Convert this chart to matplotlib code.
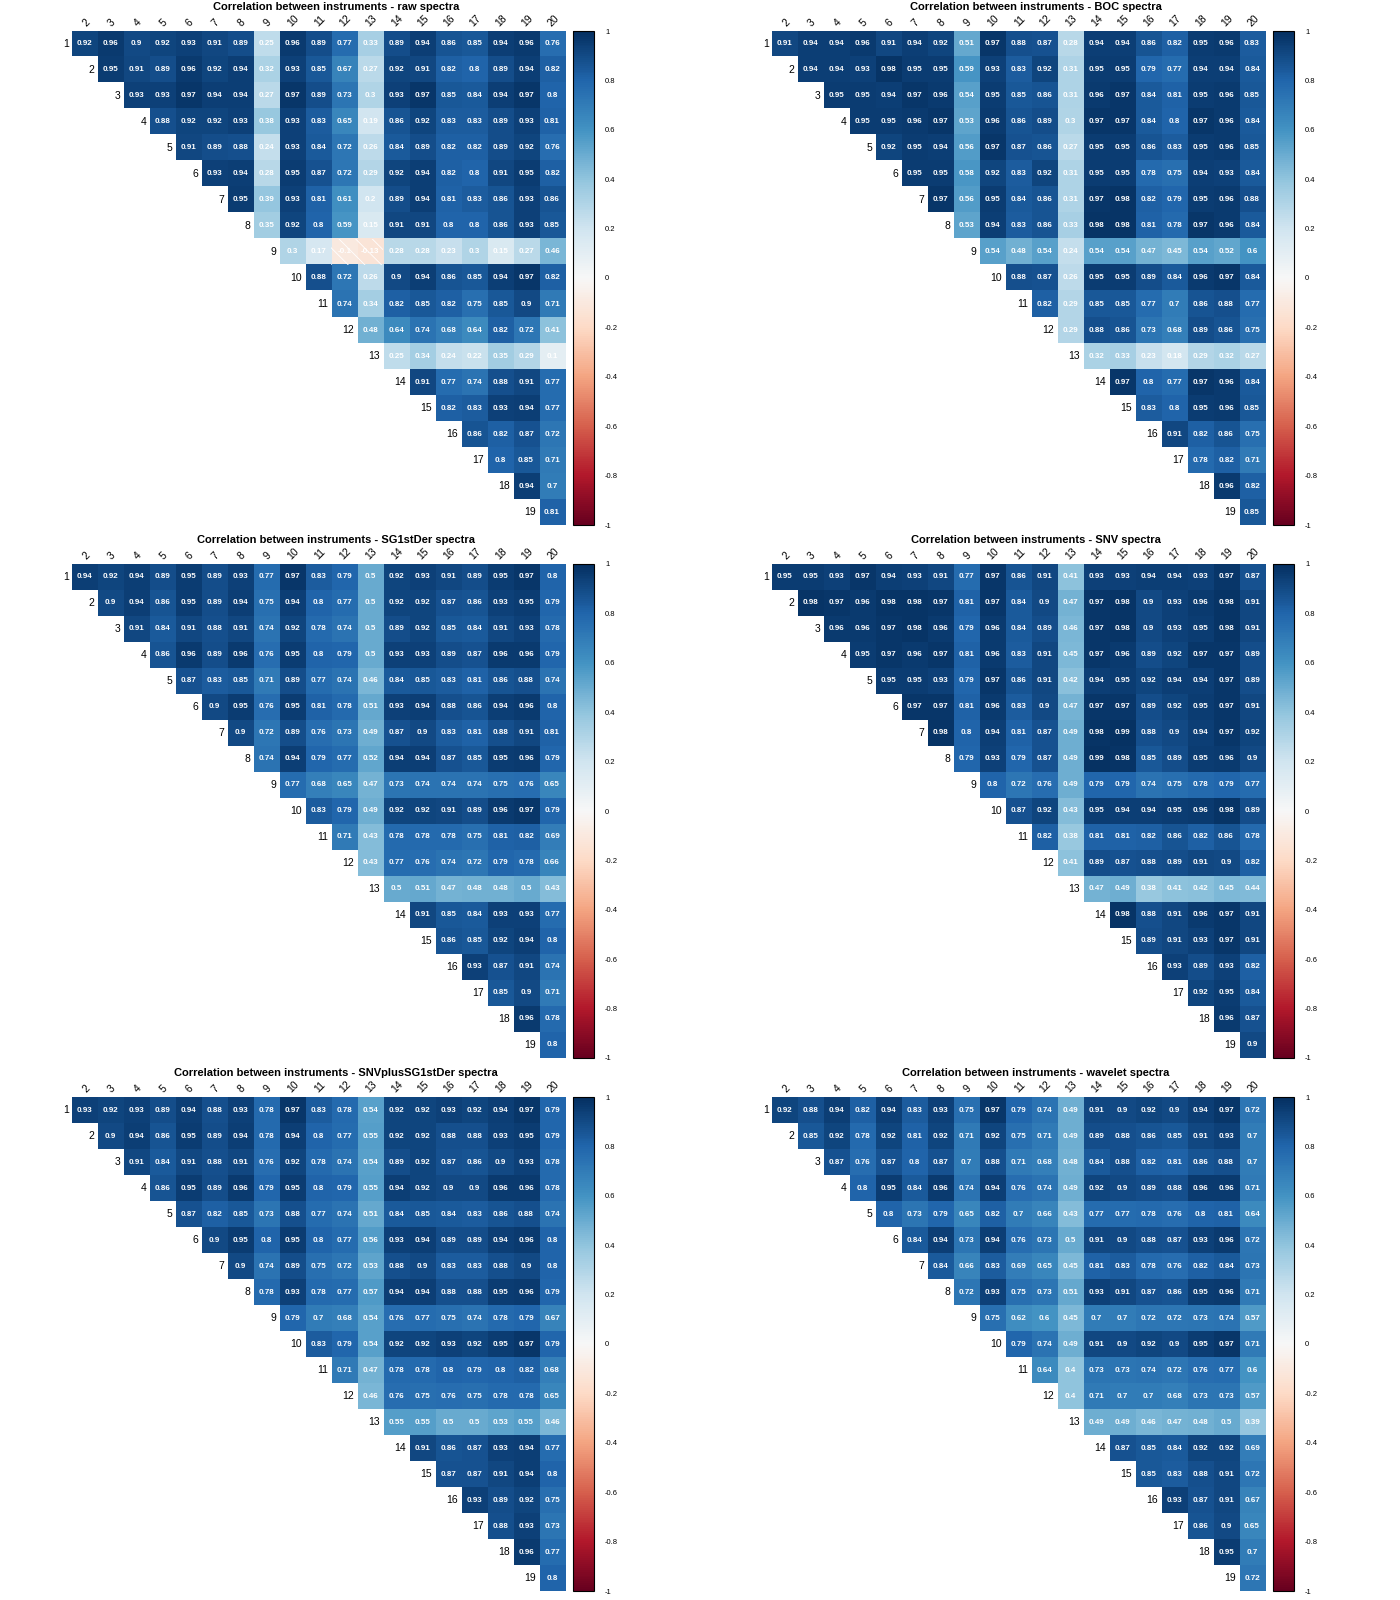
import numpy as np
import matplotlib
matplotlib.use("Agg")
import matplotlib.pyplot as plt
from matplotlib.patches import Rectangle

plt.rcParams["font.family"] = ["Liberation Sans", "DejaVu Sans"]
plt.rcParams["hatch.linewidth"] = 0.6

# instrument labels: rows 1..19, columns 2..20 (upper triangle)
row_labels = [str(i) for i in range(1, 20)]
col_labels = [str(i) for i in range(2, 21)]

titles = [
    "Correlation between instruments - raw spectra",
    "Correlation between instruments - BOC spectra",
    "Correlation between instruments - SG1stDer spectra",
    "Correlation between instruments - SNV spectra",
    "Correlation between instruments - SNVplusSG1stDer spectra",
    "Correlation between instruments - wavelet spectra",
]

# each row i holds correlations with instruments i+1 .. 20
raw = [
    [0.92, 0.96, 0.9, 0.92, 0.93, 0.91, 0.89, 0.25, 0.96, 0.89, 0.77, 0.33, 0.89, 0.94, 0.86, 0.85, 0.94, 0.96, 0.76],
    [0.95, 0.91, 0.89, 0.96, 0.92, 0.94, 0.32, 0.93, 0.85, 0.67, 0.27, 0.92, 0.91, 0.82, 0.8, 0.89, 0.94, 0.82],
    [0.93, 0.93, 0.97, 0.94, 0.94, 0.27, 0.97, 0.89, 0.73, 0.3, 0.93, 0.97, 0.85, 0.84, 0.94, 0.97, 0.8],
    [0.88, 0.92, 0.92, 0.93, 0.38, 0.93, 0.83, 0.65, 0.19, 0.86, 0.92, 0.83, 0.83, 0.89, 0.93, 0.81],
    [0.91, 0.89, 0.88, 0.24, 0.93, 0.84, 0.72, 0.26, 0.84, 0.89, 0.82, 0.82, 0.89, 0.92, 0.76],
    [0.93, 0.94, 0.28, 0.95, 0.87, 0.72, 0.29, 0.92, 0.94, 0.82, 0.8, 0.91, 0.95, 0.82],
    [0.95, 0.39, 0.93, 0.81, 0.61, 0.2, 0.89, 0.94, 0.81, 0.83, 0.86, 0.93, 0.86],
    [0.35, 0.92, 0.8, 0.59, 0.15, 0.91, 0.91, 0.8, 0.8, 0.86, 0.93, 0.85],
    [0.3, 0.17, -0.1, -0.13, 0.28, 0.28, 0.23, 0.3, 0.15, 0.27, 0.46],
    [0.88, 0.72, 0.26, 0.9, 0.94, 0.86, 0.85, 0.94, 0.97, 0.82],
    [0.74, 0.34, 0.82, 0.85, 0.82, 0.75, 0.85, 0.9, 0.71],
    [0.48, 0.64, 0.74, 0.68, 0.64, 0.82, 0.72, 0.41],
    [0.25, 0.34, 0.24, 0.22, 0.35, 0.29, 0.1],
    [0.91, 0.77, 0.74, 0.88, 0.91, 0.77],
    [0.82, 0.83, 0.93, 0.94, 0.77],
    [0.86, 0.82, 0.87, 0.72],
    [0.8, 0.85, 0.71],
    [0.94, 0.7],
    [0.81],
]

boc = [
    [0.91, 0.94, 0.94, 0.96, 0.91, 0.94, 0.92, 0.51, 0.97, 0.88, 0.87, 0.28, 0.94, 0.94, 0.86, 0.82, 0.95, 0.96, 0.83],
    [0.94, 0.94, 0.93, 0.98, 0.95, 0.95, 0.59, 0.93, 0.83, 0.92, 0.31, 0.95, 0.95, 0.79, 0.77, 0.94, 0.94, 0.84],
    [0.95, 0.95, 0.94, 0.97, 0.96, 0.54, 0.95, 0.85, 0.86, 0.31, 0.96, 0.97, 0.84, 0.81, 0.95, 0.96, 0.85],
    [0.95, 0.95, 0.96, 0.97, 0.53, 0.96, 0.86, 0.89, 0.3, 0.97, 0.97, 0.84, 0.8, 0.97, 0.96, 0.84],
    [0.92, 0.95, 0.94, 0.56, 0.97, 0.87, 0.86, 0.27, 0.95, 0.95, 0.86, 0.83, 0.95, 0.96, 0.85],
    [0.95, 0.95, 0.58, 0.92, 0.83, 0.92, 0.31, 0.95, 0.95, 0.78, 0.75, 0.94, 0.93, 0.84],
    [0.97, 0.56, 0.95, 0.84, 0.86, 0.31, 0.97, 0.98, 0.82, 0.79, 0.95, 0.96, 0.88],
    [0.53, 0.94, 0.83, 0.86, 0.33, 0.98, 0.98, 0.81, 0.78, 0.97, 0.96, 0.84],
    [0.54, 0.48, 0.54, 0.24, 0.54, 0.54, 0.47, 0.45, 0.54, 0.52, 0.6],
    [0.88, 0.87, 0.26, 0.95, 0.95, 0.89, 0.84, 0.96, 0.97, 0.84],
    [0.82, 0.29, 0.85, 0.85, 0.77, 0.7, 0.86, 0.88, 0.77],
    [0.29, 0.88, 0.86, 0.73, 0.68, 0.89, 0.86, 0.75],
    [0.32, 0.33, 0.23, 0.18, 0.29, 0.32, 0.27],
    [0.97, 0.8, 0.77, 0.97, 0.96, 0.84],
    [0.83, 0.8, 0.95, 0.96, 0.85],
    [0.91, 0.82, 0.86, 0.75],
    [0.78, 0.82, 0.71],
    [0.96, 0.82],
    [0.85],
]

sg1 = [
    [0.94, 0.92, 0.94, 0.89, 0.95, 0.89, 0.93, 0.77, 0.97, 0.83, 0.79, 0.5, 0.92, 0.93, 0.91, 0.89, 0.95, 0.97, 0.8],
    [0.9, 0.94, 0.86, 0.95, 0.89, 0.94, 0.75, 0.94, 0.8, 0.77, 0.5, 0.92, 0.92, 0.87, 0.86, 0.93, 0.95, 0.79],
    [0.91, 0.84, 0.91, 0.88, 0.91, 0.74, 0.92, 0.78, 0.74, 0.5, 0.89, 0.92, 0.85, 0.84, 0.91, 0.93, 0.78],
    [0.86, 0.96, 0.89, 0.96, 0.76, 0.95, 0.8, 0.79, 0.5, 0.93, 0.93, 0.89, 0.87, 0.96, 0.96, 0.79],
    [0.87, 0.83, 0.85, 0.71, 0.89, 0.77, 0.74, 0.46, 0.84, 0.85, 0.83, 0.81, 0.86, 0.88, 0.74],
    [0.9, 0.95, 0.76, 0.95, 0.81, 0.78, 0.51, 0.93, 0.94, 0.88, 0.86, 0.94, 0.96, 0.8],
    [0.9, 0.72, 0.89, 0.76, 0.73, 0.49, 0.87, 0.9, 0.83, 0.81, 0.88, 0.91, 0.81],
    [0.74, 0.94, 0.79, 0.77, 0.52, 0.94, 0.94, 0.87, 0.85, 0.95, 0.96, 0.79],
    [0.77, 0.68, 0.65, 0.47, 0.73, 0.74, 0.74, 0.74, 0.75, 0.76, 0.65],
    [0.83, 0.79, 0.49, 0.92, 0.92, 0.91, 0.89, 0.96, 0.97, 0.79],
    [0.71, 0.43, 0.78, 0.78, 0.78, 0.75, 0.81, 0.82, 0.69],
    [0.43, 0.77, 0.76, 0.74, 0.72, 0.79, 0.78, 0.66],
    [0.5, 0.51, 0.47, 0.48, 0.48, 0.5, 0.43],
    [0.91, 0.85, 0.84, 0.93, 0.93, 0.77],
    [0.86, 0.85, 0.92, 0.94, 0.8],
    [0.93, 0.87, 0.91, 0.74],
    [0.85, 0.9, 0.71],
    [0.96, 0.78],
    [0.8],
]

snv = [
    [0.95, 0.95, 0.93, 0.97, 0.94, 0.93, 0.91, 0.77, 0.97, 0.86, 0.91, 0.41, 0.93, 0.93, 0.94, 0.94, 0.93, 0.97, 0.87],
    [0.98, 0.97, 0.96, 0.98, 0.98, 0.97, 0.81, 0.97, 0.84, 0.9, 0.47, 0.97, 0.98, 0.9, 0.93, 0.96, 0.98, 0.91],
    [0.96, 0.96, 0.97, 0.98, 0.96, 0.79, 0.96, 0.84, 0.89, 0.46, 0.97, 0.98, 0.9, 0.93, 0.95, 0.98, 0.91],
    [0.95, 0.97, 0.96, 0.97, 0.81, 0.96, 0.83, 0.91, 0.45, 0.97, 0.96, 0.89, 0.92, 0.97, 0.97, 0.89],
    [0.95, 0.95, 0.93, 0.79, 0.97, 0.86, 0.91, 0.42, 0.94, 0.95, 0.92, 0.94, 0.94, 0.97, 0.89],
    [0.97, 0.97, 0.81, 0.96, 0.83, 0.9, 0.47, 0.97, 0.97, 0.89, 0.92, 0.95, 0.97, 0.91],
    [0.98, 0.8, 0.94, 0.81, 0.87, 0.49, 0.98, 0.99, 0.88, 0.9, 0.94, 0.97, 0.92],
    [0.79, 0.93, 0.79, 0.87, 0.49, 0.99, 0.98, 0.85, 0.89, 0.95, 0.96, 0.9],
    [0.8, 0.72, 0.76, 0.49, 0.79, 0.79, 0.74, 0.75, 0.78, 0.79, 0.77],
    [0.87, 0.92, 0.43, 0.95, 0.94, 0.94, 0.95, 0.96, 0.98, 0.89],
    [0.82, 0.38, 0.81, 0.81, 0.82, 0.86, 0.82, 0.86, 0.78],
    [0.41, 0.89, 0.87, 0.88, 0.89, 0.91, 0.9, 0.82],
    [0.47, 0.49, 0.38, 0.41, 0.42, 0.45, 0.44],
    [0.98, 0.88, 0.91, 0.96, 0.97, 0.91],
    [0.89, 0.91, 0.93, 0.97, 0.91],
    [0.93, 0.89, 0.93, 0.82],
    [0.92, 0.95, 0.84],
    [0.96, 0.87],
    [0.9],
]

snv_sg1 = [
    [0.93, 0.92, 0.93, 0.89, 0.94, 0.88, 0.93, 0.78, 0.97, 0.83, 0.78, 0.54, 0.92, 0.92, 0.93, 0.92, 0.94, 0.97, 0.79],
    [0.9, 0.94, 0.86, 0.95, 0.89, 0.94, 0.78, 0.94, 0.8, 0.77, 0.55, 0.92, 0.92, 0.88, 0.88, 0.93, 0.95, 0.79],
    [0.91, 0.84, 0.91, 0.88, 0.91, 0.76, 0.92, 0.78, 0.74, 0.54, 0.89, 0.92, 0.87, 0.86, 0.9, 0.93, 0.78],
    [0.86, 0.95, 0.89, 0.96, 0.79, 0.95, 0.8, 0.79, 0.55, 0.94, 0.92, 0.9, 0.9, 0.96, 0.96, 0.78],
    [0.87, 0.82, 0.85, 0.73, 0.88, 0.77, 0.74, 0.51, 0.84, 0.85, 0.84, 0.83, 0.86, 0.88, 0.74],
    [0.9, 0.95, 0.8, 0.95, 0.8, 0.77, 0.56, 0.93, 0.94, 0.89, 0.89, 0.94, 0.96, 0.8],
    [0.9, 0.74, 0.89, 0.75, 0.72, 0.53, 0.88, 0.9, 0.83, 0.83, 0.88, 0.9, 0.8],
    [0.78, 0.93, 0.78, 0.77, 0.57, 0.94, 0.94, 0.88, 0.88, 0.95, 0.96, 0.79],
    [0.79, 0.7, 0.68, 0.54, 0.76, 0.77, 0.75, 0.74, 0.78, 0.79, 0.67],
    [0.83, 0.79, 0.54, 0.92, 0.92, 0.93, 0.92, 0.95, 0.97, 0.79],
    [0.71, 0.47, 0.78, 0.78, 0.8, 0.79, 0.8, 0.82, 0.68],
    [0.46, 0.76, 0.75, 0.76, 0.75, 0.78, 0.78, 0.65],
    [0.55, 0.55, 0.5, 0.5, 0.53, 0.55, 0.46],
    [0.91, 0.86, 0.87, 0.93, 0.94, 0.77],
    [0.87, 0.87, 0.91, 0.94, 0.8],
    [0.93, 0.89, 0.92, 0.75],
    [0.88, 0.93, 0.73],
    [0.96, 0.77],
    [0.8],
]

wavelet = [
    [0.92, 0.88, 0.94, 0.82, 0.94, 0.83, 0.93, 0.75, 0.97, 0.79, 0.74, 0.49, 0.91, 0.9, 0.92, 0.9, 0.94, 0.97, 0.72],
    [0.85, 0.92, 0.78, 0.92, 0.81, 0.92, 0.71, 0.92, 0.75, 0.71, 0.49, 0.89, 0.88, 0.86, 0.85, 0.91, 0.93, 0.7],
    [0.87, 0.76, 0.87, 0.8, 0.87, 0.7, 0.88, 0.71, 0.68, 0.48, 0.84, 0.88, 0.82, 0.81, 0.86, 0.88, 0.7],
    [0.8, 0.95, 0.84, 0.96, 0.74, 0.94, 0.76, 0.74, 0.49, 0.92, 0.9, 0.89, 0.88, 0.96, 0.96, 0.71],
    [0.8, 0.73, 0.79, 0.65, 0.82, 0.7, 0.66, 0.43, 0.77, 0.77, 0.78, 0.76, 0.8, 0.81, 0.64],
    [0.84, 0.94, 0.73, 0.94, 0.76, 0.73, 0.5, 0.91, 0.9, 0.88, 0.87, 0.93, 0.96, 0.72],
    [0.84, 0.66, 0.83, 0.69, 0.65, 0.45, 0.81, 0.83, 0.78, 0.76, 0.82, 0.84, 0.73],
    [0.72, 0.93, 0.75, 0.73, 0.51, 0.93, 0.91, 0.87, 0.86, 0.95, 0.96, 0.71],
    [0.75, 0.62, 0.6, 0.45, 0.7, 0.7, 0.72, 0.72, 0.73, 0.74, 0.57],
    [0.79, 0.74, 0.49, 0.91, 0.9, 0.92, 0.9, 0.95, 0.97, 0.71],
    [0.64, 0.4, 0.73, 0.73, 0.74, 0.72, 0.76, 0.77, 0.6],
    [0.4, 0.71, 0.7, 0.7, 0.68, 0.73, 0.73, 0.57],
    [0.49, 0.49, 0.46, 0.47, 0.48, 0.5, 0.39],
    [0.87, 0.85, 0.84, 0.92, 0.92, 0.69],
    [0.85, 0.83, 0.88, 0.91, 0.72],
    [0.93, 0.87, 0.91, 0.67],
    [0.86, 0.9, 0.65],
    [0.95, 0.7],
    [0.72],
]

panels = [raw, boc, sg1, snv, snv_sg1, wavelet]
cbar_ticks = [1, 0.8, 0.6, 0.4, 0.2, 0, -0.2, -0.4, -0.6, -0.8, -1]


def to_matrix(rows):
    n = len(rows)
    m = np.full((n, n), np.nan)
    for i, r in enumerate(rows):
        m[i, i:i + len(r)] = r
    return m


W, H = 1400, 1600
fig = plt.figure(figsize=(14, 16), dpi=100)


def fx(px):
    return px / W


def fy(py):
    return 1 - py / H


for k, (title, rows) in enumerate(zip(titles, panels)):
    ox = 700 * (k % 2)
    oy = 533 * (k // 2)
    ax = fig.add_axes([fx(ox + 71.7), fy(oy + 525), 493.3 / W, 494 / H])
    m = to_matrix(rows)
    im = ax.imshow(np.ma.masked_invalid(m), cmap="RdBu", vmin=-1, vmax=1,
                   interpolation="nearest", aspect="auto")
    ax.set_xlim(-0.5, 18.5)
    ax.set_ylim(18.5, -0.5)
    ax.axis("off")

    for i in range(19):
        for j in range(i, 19):
            v = m[i, j]
            ax.text(j, i, f"{v:g}", ha="center", va="center", color="white",
                    fontsize=5.8, fontweight="bold")
            if v < 0:
                # negative cells carry a light diagonal hatch
                ax.add_patch(Rectangle((j - 0.5, i - 0.5), 1, 1, fill=False,
                                       hatch="\\\\", edgecolor="white", linewidth=0))
        ax.text(i - 0.62, i, row_labels[i], ha="right", va="center", fontsize=7.5)
        ax.text(i + 0.05, -0.6, col_labels[i], rotation=45, ha="center", va="bottom",
                fontsize=7.5)

    cax = fig.add_axes([fx(ox + 573), fy(oy + 525), 21 / W, 494 / H])
    cb = fig.colorbar(im, cax=cax, ticks=cbar_ticks)
    cb.ax.set_yticklabels([f"{t:g}" for t in cbar_ticks])
    cb.ax.tick_params(labelsize=5.5, length=0, pad=8)
    cb.outline.set_linewidth(0.8)

    fig.text(fx(ox + 336), fy(oy + 7), title, ha="center", va="center",
             fontsize=8, fontweight="bold")

fig.savefig("out.png", dpi=100)
